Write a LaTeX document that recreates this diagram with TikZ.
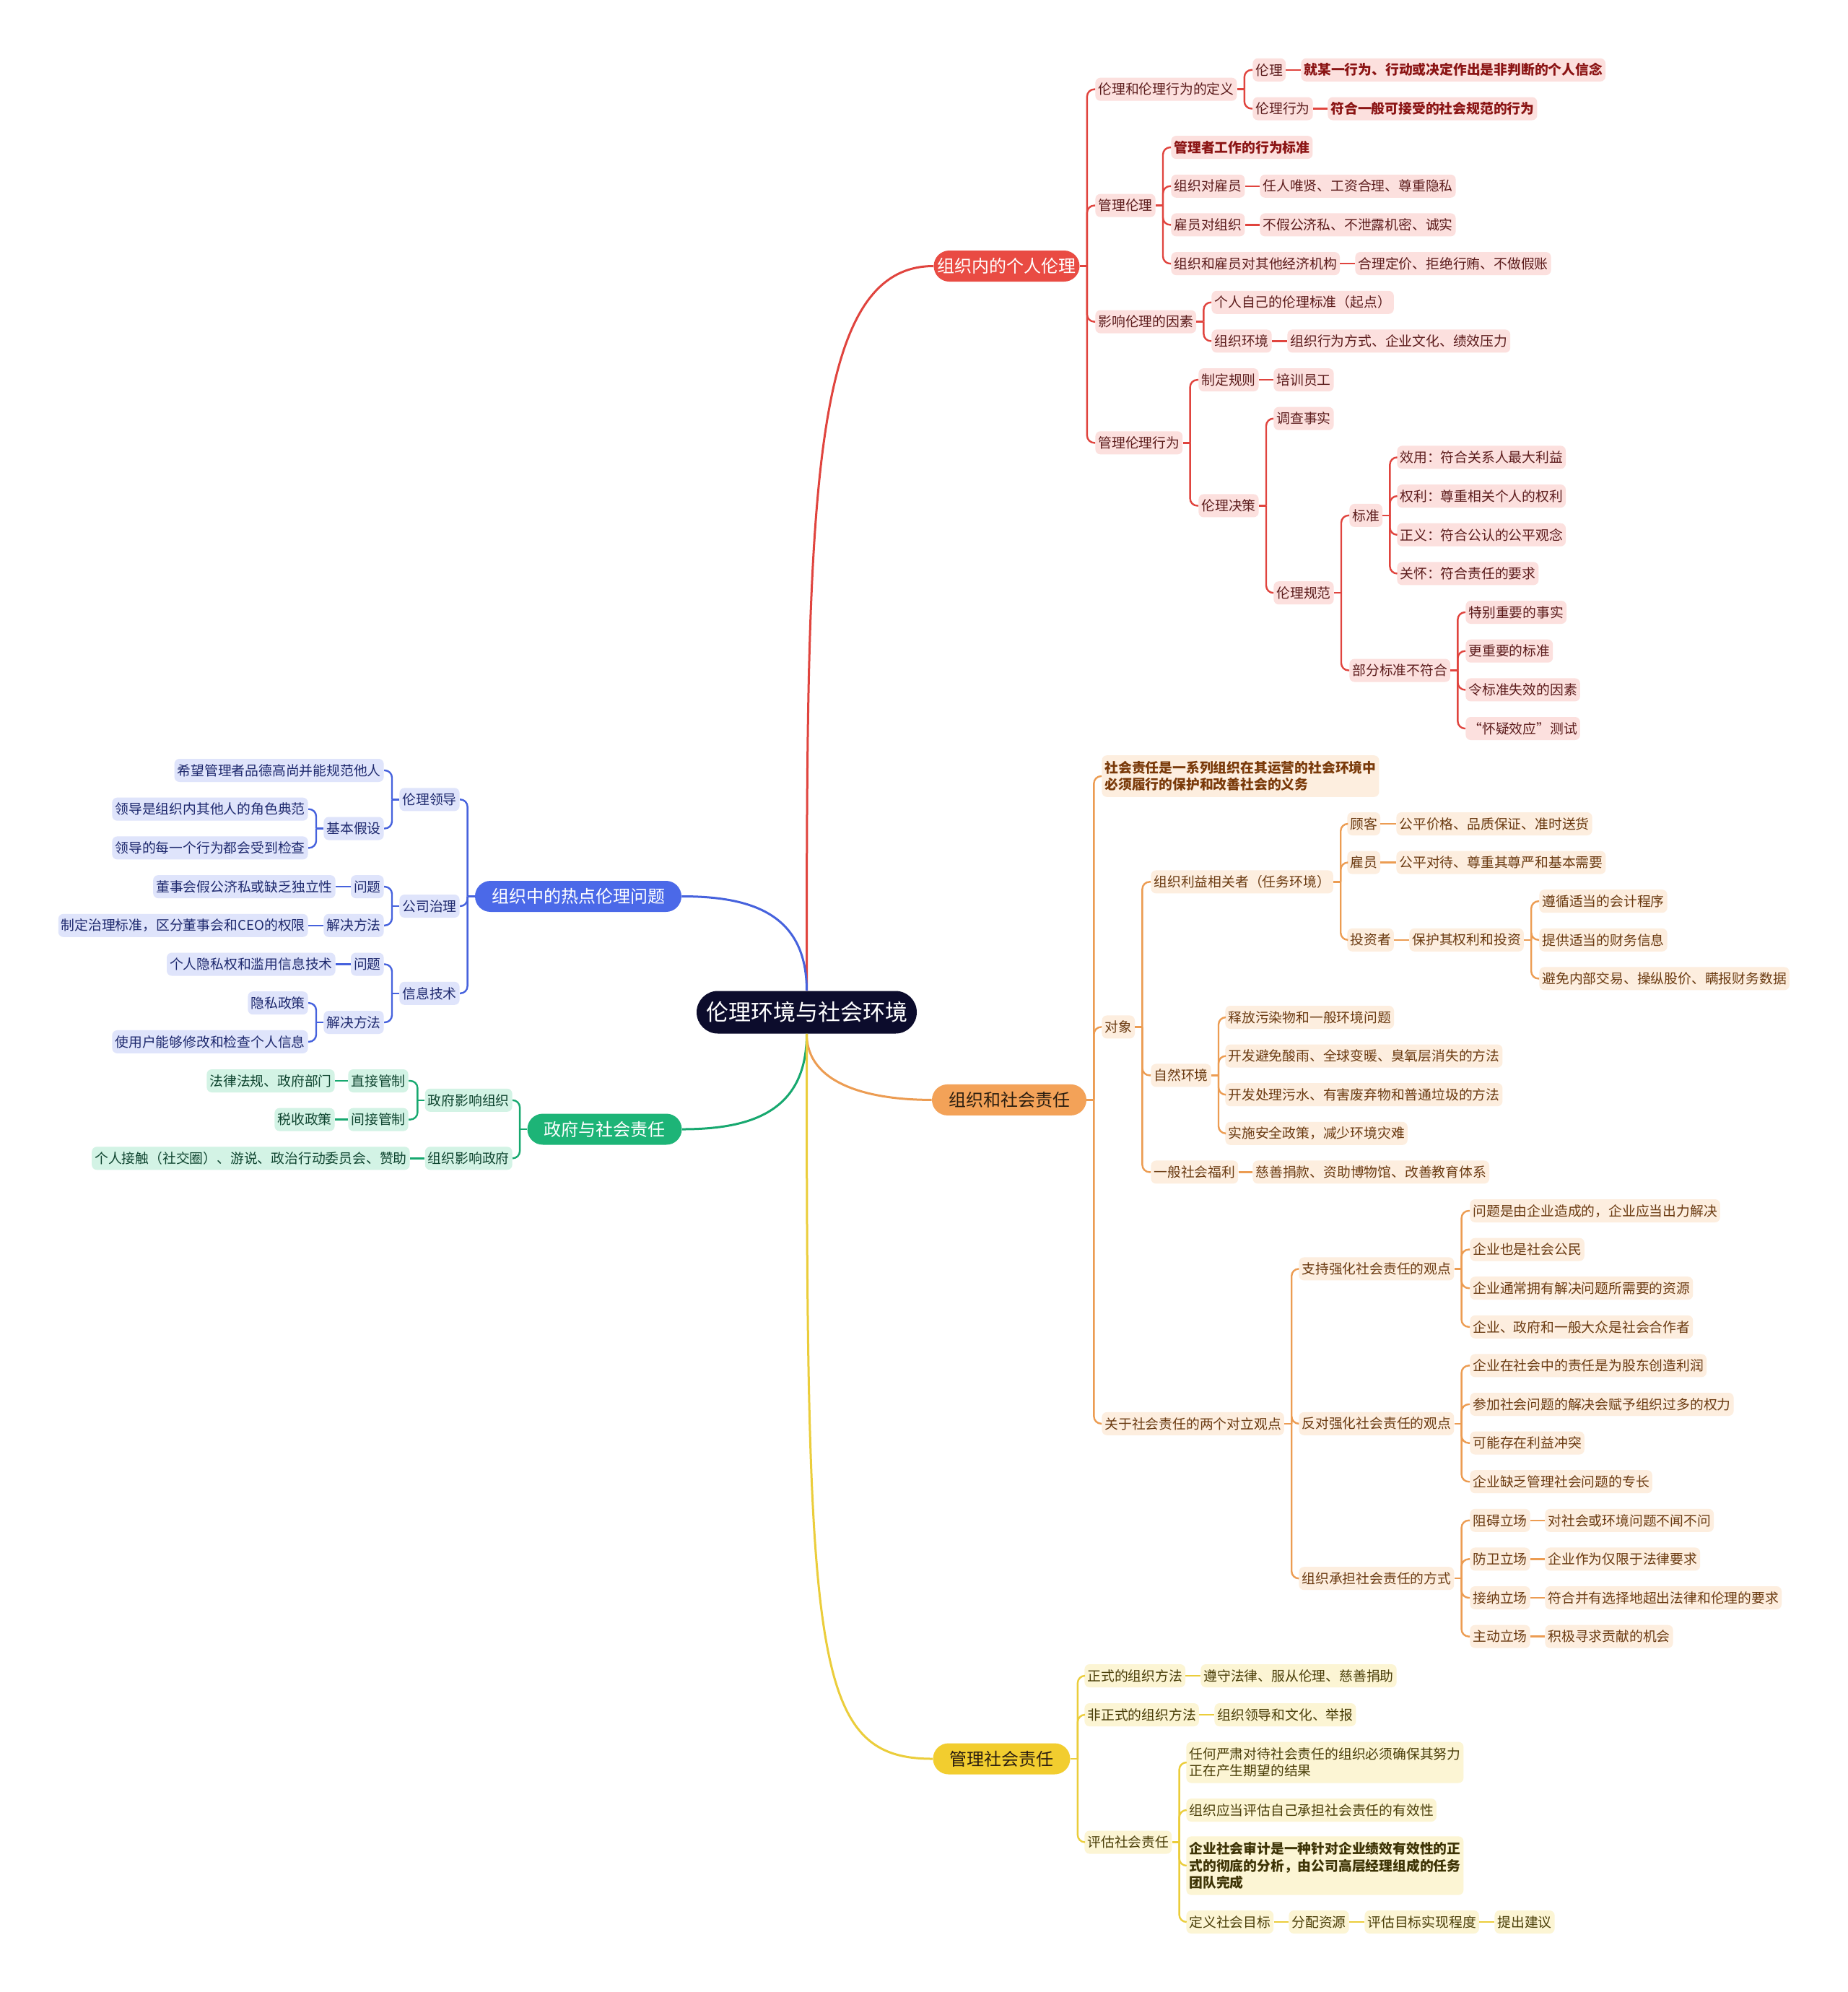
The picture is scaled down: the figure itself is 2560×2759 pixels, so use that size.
\documentclass[tikz,border=0pt]{standalone}
\usepackage{fontspec}
\setmainfont{Noto Sans CJK SC}
\definecolor{rline}{HTML}{E0443E}
\definecolor{rmain}{HTML}{E94B43}
\definecolor{rfill}{HTML}{FCE0DE}
\definecolor{rtext}{HTML}{5C1C1C}
\definecolor{rbold}{HTML}{8B1414}
\definecolor{oline}{HTML}{EC9C52}
\definecolor{omain}{HTML}{F3A258}
\definecolor{ofill}{HTML}{FDEEDF}
\definecolor{otext}{HTML}{6B3B12}
\definecolor{obold}{HTML}{7A3A0A}
\definecolor{yline}{HTML}{EBCD3B}
\definecolor{ymain}{HTML}{F2CD2F}
\definecolor{yfill}{HTML}{FCF5D4}
\definecolor{ytext}{HTML}{4A3E08}
\definecolor{ybold}{HTML}{3E3406}
\definecolor{bline}{HTML}{4662DD}
\definecolor{bmain}{HTML}{4B69E8}
\definecolor{bfill}{HTML}{DFE4FB}
\definecolor{btext}{HTML}{1E296E}
\definecolor{gline}{HTML}{17A86F}
\definecolor{gmain}{HTML}{1DB477}
\definecolor{gfill}{HTML}{D3F3E5}
\definecolor{gtext}{HTML}{0F4530}
\definecolor{cfill}{HTML}{0C0C2C}
\definecolor{darkmain}{HTML}{2B1E10}
\newcommand\forkR[3]{%
  \draw[#1] (#2.east) -- ++(10,0);
  \foreach \kid in {#3} {\draw[#1] (#2.east) ++(10,0) |- (\kid.west);}
}
\newcommand\forkL[3]{%
  \draw[#1] (#2.west) -- ++(-10,0);
  \foreach \kid in {#3} {\draw[#1] (#2.west) ++(-10,0) |- (\kid.east);}
}
\tikzset{
  box/.style={rounded corners=3.5pt, inner xsep=2pt, inner ysep=0pt, minimum height=16pt, font=\fontsize{9.4}{11.7}\selectfont},
  boldbox/.style={font=\fontsize{9.4}{11.7}\selectfont\bfseries},
  multi/.style={align=left, inner ysep=4pt, minimum height=0pt},
  rb/.style={box, fill=rfill, text=rtext, anchor=west},
  rbb/.style={rb, boldbox, text=rbold},
  ob/.style={box, fill=ofill, text=otext, anchor=west},
  obb/.style={ob, boldbox, text=obold},
  yb/.style={box, fill=yfill, text=ytext, anchor=west},
  ybb/.style={yb, boldbox, text=ybold},
  bb/.style={box, fill=bfill, text=btext, anchor=east},
  gb/.style={box, fill=gfill, text=gtext, anchor=east},
  mainnode/.style={rounded corners=10.75pt, minimum height=21.5pt, inner ysep=0pt, inner xsep=11.5pt, font=\fontsize{12}{14}\selectfont},
  centernode/.style={fill=cfill, text=white, rounded corners=14.75pt, minimum height=29.5pt, inner ysep=0pt, inner xsep=6.5pt, font=\fontsize{15.5}{18}\selectfont},
  rl/.style={draw=rline, line width=1.2pt, rounded corners=5pt},
  ol/.style={draw=oline, line width=1.2pt, rounded corners=5pt},
  yl/.style={draw=yline, line width=1.2pt, rounded corners=5pt},
  bl/.style={draw=bline, line width=1.2pt, rounded corners=5pt},
  gl/.style={draw=gline, line width=1.2pt, rounded corners=5pt},
  trunk/.style={line width=1.5pt}
}
\begin{document}
\begin{tikzpicture}[x=0.5pt,y=-0.5pt]
\fill[white] (0,0) rectangle (2560,2759);
\useasboundingbox (0,0) rectangle (2560,2759);

% center
\node[centernode] (c) at (1117.5,1402) {伦理环境与社会环境};

% main nodes
\node[mainnode, fill=rmain, text=white, inner xsep=2.5pt] (rm) at (1394.5,368.5) {组织内的个人伦理};
\node[mainnode, fill=omain, text=darkmain] (om) at (1398,1523.4) {组织和社会责任};
\node[mainnode, fill=ymain, text=darkmain] (ym) at (1387.5,2436) {管理社会责任};
\node[mainnode, fill=bmain, text=white] (bm) at (801,1241.5) {组织中的热点伦理问题};
\node[mainnode, fill=gmain, text=white] (gm) at (837.5,1564) {政府与社会责任};

% ---------- red ----------
\node[rb] (r1) at (1517,123.65) {伦理和伦理行为的定义};
\node[rb] (r11) at (1735,96.8) {伦理};
\node[rbb] (r111) at (1802,96.8) {就某一行为、行动或决定作出是非判断的个人信念};
\node[rb] (r12) at (1735,150.5) {伦理行为};
\node[rbb] (r121) at (1839,150.5) {符合一般可接受的社会规范的行为};
\node[rb] (r2) at (1517,284.6) {管理伦理};
\node[rbb] (r21) at (1622,204.1) {管理者工作的行为标准};
\node[rb] (r22) at (1622,257.8) {组织对雇员};
\node[rb] (r221) at (1745,257.8) {任人唯贤、工资合理、尊重隐私};
\node[rb] (r23) at (1622,311.4) {雇员对组织};
\node[rb] (r231) at (1745,311.4) {不假公济私、不泄露机密、诚实};
\node[rb] (r24) at (1622,365.1) {组织和雇员对其他经济机构};
\node[rb] (r241) at (1877,365.1) {合理定价、拒绝行贿、不做假账};
\node[rb] (r3) at (1517,445.6) {影响伦理的因素};
\node[rb] (r31) at (1678,418.8) {个人自己的伦理标准（起点）};
\node[rb] (r32) at (1678,472.4) {组织环境};
\node[rb] (r321) at (1783,472.4) {组织行为方式、企业文化、绩效压力};
\node[rb] (r4) at (1517,613.3) {管理伦理行为};
\node[rb] (r41) at (1660,526.1) {制定规则};
\node[rb] (r411) at (1764,526.1) {培训员工};
\node[rb] (r42) at (1660,700.45) {伦理决策};
\node[rb] (r421) at (1764,579.7) {调查事实};
\node[rb] (r422) at (1764,821.2) {伦理规范};
\node[rb] (r4221) at (1869,713.9) {标准};
\node[rb] (s1) at (1935,633.4) {效用：符合关系人最大利益};
\node[rb] (s2) at (1935,687.1) {权利：尊重相关个人的权利};
\node[rb] (s3) at (1935,740.7) {正义：符合公认的公平观念};
\node[rb] (s4) at (1935,794.4) {关怀：符合责任的要求};
\node[rb] (r4222) at (1869,928.5) {部分标准不符合};
\node[rb] (t1) at (2030,848) {特别重要的事实};
\node[rb] (t2) at (2030,901.7) {更重要的标准};
\node[rb] (t3) at (2030,955.4) {令标准失效的因素};
\node[rb] (t4) at (2030,1009) {“怀疑效应”测试};

\forkR{rl}{rm}{r1,r2,r3,r4}
\forkR{rl}{r1}{r11,r12}
\draw[rl] (r11.east) -- (r111.west);
\draw[rl] (r12.east) -- (r121.west);
\forkR{rl}{r2}{r21,r22,r23,r24}
\draw[rl] (r22.east) -- (r221.west);
\draw[rl] (r23.east) -- (r231.west);
\draw[rl] (r24.east) -- (r241.west);
\forkR{rl}{r3}{r31,r32}
\draw[rl] (r32.east) -- (r321.west);
\forkR{rl}{r4}{r41,r42}
\draw[rl] (r41.east) -- (r411.west);
\forkR{rl}{r42}{r421,r422}
\forkR{rl}{r422}{r4221,r4222}
\forkR{rl}{r4221}{s1,s2,s3,s4}
\forkR{rl}{r4222}{t1,t2,t3,t4}

% ---------- orange ----------
\node[obb, multi] (o1) at (1526,1075) {社会责任是一系列组织在其运营的社会环境中\\必须履行的保护和改善社会的义务};
\node[ob] (o2) at (1526,1422.4) {对象};
\node[ob] (o21) at (1594,1221.4) {组织利益相关者（任务环境）};
\node[ob] (o211) at (1866,1141) {顾客};
\node[ob] (o2111) at (1934,1141) {公平价格、品质保证、准时送货};
\node[ob] (o212) at (1866,1194.6) {雇员};
\node[ob] (o2121) at (1934,1194.6) {公平对待、尊重其尊严和基本需要};
\node[ob] (o213) at (1866,1301.8) {投资者};
\node[ob] (o2131) at (1952,1301.8) {保护其权利和投资};
\node[ob] (p1) at (2132,1248.2) {遵循适当的会计程序};
\node[ob] (p2) at (2132,1301.8) {提供适当的财务信息};
\node[ob] (p3) at (2132,1355.4) {避免内部交易、操纵股价、瞒报财务数据};
\node[ob] (o22) at (1594,1489.4) {自然环境};
\node[ob] (e1) at (1697,1409) {释放污染物和一般环境问题};
\node[ob] (e2) at (1697,1462.6) {开发避免酸雨、全球变暖、臭氧层消失的方法};
\node[ob] (e3) at (1697,1516.2) {开发处理污水、有害废弃物和普通垃圾的方法};
\node[ob] (e4) at (1697,1569.8) {实施安全政策，减少环境灾难};
\node[ob] (o23) at (1594,1623.4) {一般社会福利};
\node[ob] (o231) at (1735,1623.4) {慈善捐款、资助博物馆、改善教育体系};
\node[ob] (o3) at (1526,1971.8) {关于社会责任的两个对立观点};
\node[ob] (o31) at (1799,1757.4) {支持强化社会责任的观点};
\node[ob] (u1) at (2036,1677) {问题是由企业造成的，企业应当出力解决};
\node[ob] (u2) at (2036,1730.6) {企业也是社会公民};
\node[ob] (u3) at (2036,1784.2) {企业通常拥有解决问题所需要的资源};
\node[ob] (u4) at (2036,1837.8) {企业、政府和一般大众是社会合作者};
\node[ob] (o32) at (1799,1971.8) {反对强化社会责任的观点};
\node[ob] (v1) at (2036,1891.4) {企业在社会中的责任是为股东创造利润};
\node[ob] (v2) at (2036,1945) {参加社会问题的解决会赋予组织过多的权力};
\node[ob] (v3) at (2036,1998.6) {可能存在利益冲突};
\node[ob] (v4) at (2036,2052.2) {企业缺乏管理社会问题的专长};
\node[ob] (o33) at (1799,2186.2) {组织承担社会责任的方式};
\node[ob] (w1) at (2036,2105.8) {阻碍立场};
\node[ob] (w1x) at (2140,2105.8) {对社会或环境问题不闻不问};
\node[ob] (w2) at (2036,2159.4) {防卫立场};
\node[ob] (w2x) at (2140,2159.4) {企业作为仅限于法律要求};
\node[ob] (w3) at (2036,2213) {接纳立场};
\node[ob] (w3x) at (2140,2213) {符合并有选择地超出法律和伦理的要求};
\node[ob] (w4) at (2036,2266.6) {主动立场};
\node[ob] (w4x) at (2140,2266.6) {积极寻求贡献的机会};

\forkR{ol}{om}{o1,o2,o3}
\forkR{ol}{o2}{o21,o22,o23}
\forkR{ol}{o21}{o211,o212,o213}
\draw[ol] (o211.east) -- (o2111.west);
\draw[ol] (o212.east) -- (o2121.west);
\draw[ol] (o213.east) -- (o2131.west);
\forkR{ol}{o2131}{p1,p2,p3}
\forkR{ol}{o22}{e1,e2,e3,e4}
\draw[ol] (o23.east) -- (o231.west);
\forkR{ol}{o3}{o31,o32,o33}
\forkR{ol}{o31}{u1,u2,u3,u4}
\forkR{ol}{o32}{v1,v2,v3,v4}
\forkR{ol}{o33}{w1,w2,w3,w4}
\draw[ol] (w1.east) -- (w1x.west);
\draw[ol] (w2.east) -- (w2x.west);
\draw[ol] (w3.east) -- (w3x.west);
\draw[ol] (w4.east) -- (w4x.west);

% ---------- yellow ----------
\node[yb] (y1) at (1502,2321) {正式的组织方法};
\node[yb] (y11) at (1663,2321) {遵守法律、服从伦理、慈善捐助};
\node[yb] (y2) at (1502,2375) {非正式的组织方法};
\node[yb] (y21) at (1682,2375) {组织领导和文化、举报};
\node[yb] (y3) at (1502,2551.5) {评估社会责任};
\node[yb, multi] (y31) at (1643,2441) {任何严肃对待社会责任的组织必须确保其努力\\正在产生期望的结果};
\node[yb] (y32) at (1643,2507) {组织应当评估自己承担社会责任的有效性};
\node[ybb, multi] (y33) at (1643,2584) {企业社会审计是一种针对企业绩效有效性的正\\式的彻底的分析，由公司高层经理组成的任务\\团队完成};
\node[yb] (y34) at (1643,2662) {定义社会目标};
\node[yb] (y35) at (1785,2662) {分配资源};
\node[yb] (y36) at (1890,2662) {评估目标实现程度};
\node[yb] (y37) at (2070,2662) {提出建议};

\forkR{yl}{ym}{y1,y2,y3}
\draw[yl] (y1.east) -- (y11.west);
\draw[yl] (y2.east) -- (y21.west);
\forkR{yl}{y3}{y31,y32,y33,y34}
\draw[yl] (y34.east) -- (y35.west);
\draw[yl] (y35.east) -- (y36.west);
\draw[yl] (y36.east) -- (y37.west);

% ---------- blue ----------
\node[bb] (b1) at (637,1107.3) {伦理领导};
\node[bb] (b11) at (532,1067) {希望管理者品德高尚并能规范他人};
\node[bb] (b12) at (532,1147.5) {基本假设};
\node[bb] (b121) at (427,1120.7) {领导是组织内其他人的角色典范};
\node[bb] (b122) at (427,1174.4) {领导的每一个行为都会受到检查};
\node[bb] (b2) at (637,1255) {公司治理};
\node[bb] (b21) at (532,1228.1) {问题};
\node[bb] (b211) at (465,1228.1) {董事会假公济私或缺乏独立性};
\node[bb] (b22) at (532,1281.8) {解决方法};
\node[bb] (b221) at (427,1281.8) {制定治理标准，区分董事会和CEO的权限};
\node[bb] (b3) at (637,1375.8) {信息技术};
\node[bb] (b31) at (532,1335.5) {问题};
\node[bb] (b311) at (465,1335.5) {个人隐私权和滥用信息技术};
\node[bb] (b32) at (532,1416) {解决方法};
\node[bb] (b321) at (427,1389.2) {隐私政策};
\node[bb] (b322) at (427,1442.9) {使用户能够修改和检查个人信息};

\forkL{bl}{bm}{b1,b2,b3}
\forkL{bl}{b1}{b11,b12}
\forkL{bl}{b12}{b121,b122}
\forkL{bl}{b2}{b21,b22}
\draw[bl] (b21.west) -- (b211.east);
\draw[bl] (b22.west) -- (b221.east);
\forkL{bl}{b3}{b31,b32}
\draw[bl] (b31.west) -- (b311.east);
\forkL{bl}{b32}{b321,b322}

% ---------- green ----------
\node[gb] (g1) at (710,1523.8) {政府影响组织};
\node[gb] (g11) at (566,1497) {直接管制};
\node[gb] (g111) at (464,1497) {法律法规、政府部门};
\node[gb] (g12) at (566,1550.6) {间接管制};
\node[gb] (g121) at (464,1550.6) {税收政策};
\node[gb] (g2) at (710,1604.3) {组织影响政府};
\node[gb] (g21) at (568,1604.3) {个人接触（社交圈）、游说、政治行动委员会、赞助};

\forkL{gl}{gm}{g1,g2}
\forkL{gl}{g1}{g11,g12}
\draw[gl] (g11.west) -- (g111.east);
\draw[gl] (g12.west) -- (g121.east);
\draw[gl] (g2.west) -- (g21.east);

% ---------- trunks from center ----------
\draw[rl, trunk] (c.north) .. controls (1117.5,700) and (1120,368.5) .. (rm.west);
\draw[bl, trunk] (c.north) .. controls (1117.5,1265) and (1040,1241.5) .. (bm.east);
\draw[gl, trunk] (c.south) .. controls (1117.5,1540) and (1040,1564) .. (gm.east);
\draw[ol, trunk] (c.south) .. controls (1117.5,1500) and (1200,1523.4) .. (om.west);
\draw[yl, trunk] (c.south) .. controls (1117.5,2300) and (1125,2436) .. (ym.west);
\end{tikzpicture}
\end{document}
